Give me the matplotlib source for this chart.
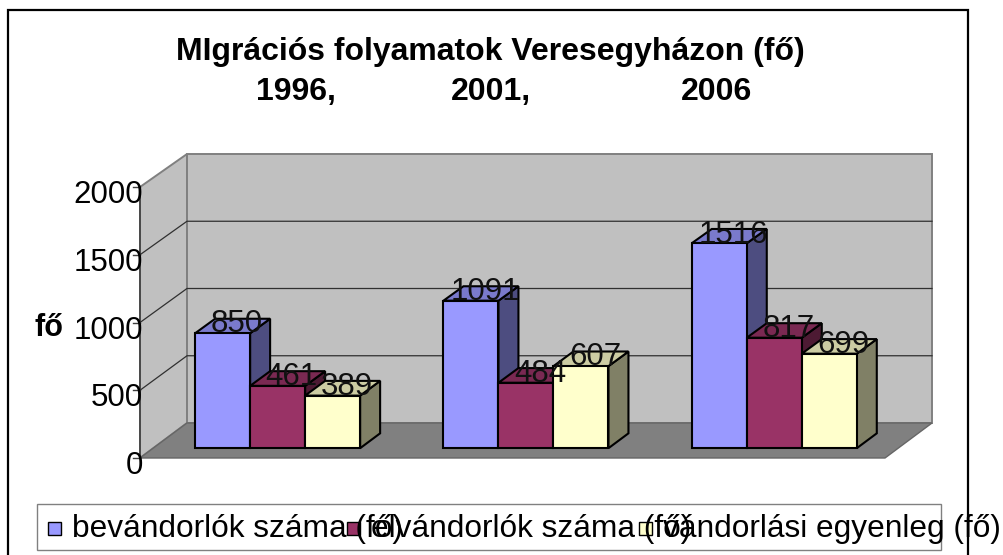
import matplotlib
matplotlib.use("Agg")
import matplotlib.pyplot as plt
from matplotlib.patches import Polygon, Rectangle

plt.rcParams['font.family'] = ['Liberation Sans', 'DejaVu Sans']

# adatok
evek = ["1996", "2001", "2006"]
bevandorlok = [850, 1091, 1516]
elvandorlok = [461, 484, 817]
egyenleg = [389, 607, 699]
sorozatok = [bevandorlok, elvandorlok, egyenleg]
nevek = ["bevándorlók száma (fő)", "elvándorlók száma (fő)", "vándorlási egyenleg (fő)"]
yticks = [0, 500, 1000, 1500, 2000]

front = ["#9999FF", "#993366", "#FFFFCC"]
top = ["#7A7ACC", "#7A2952", "#CCCCA3"]
side = ["#4D4D80", "#4D1A33", "#808066"]

W, H = 1004, 555
PX_X = 745 / 3      # pixel / kategoria
PX_Y = 271 / 2000   # pixel / ertek
DX = 47 / PX_X
BAR = 0.2215
MARGO = 0.169


def vet(x, y, d):
    # ferde vetites: d=0 elol, d=1 a hatso falnal (felul kicsit kisebb a melyseg)
    return (x + d * DX, y + d * (35 - 2 * y / 2000) / PX_Y)


def poly(ax, pontok, fc, ec="black", lw=1.0, z=1):
    ax.add_patch(Polygon([vet(*p) for p in pontok], closed=True, facecolor=fc,
                         edgecolor=ec, linewidth=lw, zorder=z, clip_on=False,
                         joinstyle="miter"))


fig = plt.figure(figsize=(W / 100, H / 100), dpi=100)
ax = fig.add_axes([140 / W, 1 - 458 / H, 745 / W, 271 / H])
ax.set_xlim(0, 3)
ax.set_ylim(0, 2000)
ax.axis("off")

# falak es padlo
poly(ax, [(0, 0, 0), (0, 0, 1), (0, 2000, 1), (0, 2000, 0)], "#C0C0C0", "#808080", 1.4)
poly(ax, [(0, 0, 1), (3, 0, 1), (3, 2000, 1), (0, 2000, 1)], "#C0C0C0", "#808080", 1.4)
poly(ax, [(0, 0, 0), (3, 0, 0), (3, 0, 1), (0, 0, 1)], "#808080", "#666666", 1.0)

# racsvonalak
for t in yticks[1:-1]:
    xs, ys = zip(vet(0, t, 0), vet(0, t, 1), vet(3, t, 1))
    ax.plot(xs, ys, color="#303030", lw=0.9, zorder=2, clip_on=False)

# tengely
ax.plot([0, 0], [0, 2000], color="#404040", lw=1.2, zorder=2, clip_on=False)
for t in yticks:
    ax.plot([-0.03, 0], [t, t], color="#404040", lw=1.0, zorder=2, clip_on=False)
    ax.text(0.012, t - 60, str(t), ha="right", va="center", fontsize=22.5, zorder=6, clip_on=False)

# oszlopok
d0, d1 = 0.28, 0.705
for i in range(len(evek)):
    for j, ertek in enumerate(sorozatok):
        v = ertek[i]
        x0 = i + MARGO + j * BAR
        x1 = x0 + BAR
        z = 3 + 0.01 * (i * 3 + j)
        poly(ax, [(x1, 0, d0), (x1, 0, d1), (x1, v, d1), (x1, v, d0)], side[j], lw=1.5, z=z)
        poly(ax, [(x0, v, d0), (x1, v, d0), (x1, v, d1), (x0, v, d1)], top[j], lw=1.5, z=z)
        poly(ax, [(x0, 0, d0), (x1, 0, d0), (x1, v, d0), (x0, v, d0)], front[j], lw=1.5, z=z)
        lx, ly = vet((x0 + x1) / 2, v, 0.58)
        ax.text(lx, ly - 10, str(v), ha="center", va="center", fontsize=22.5, color="#111111",
                zorder=7, clip_on=False)

# cimek
fig.text(490.5 / W, 1 - 52 / H, "MIgrációs folyamatok Veresegyházon (fő)", ha="center", va="center",
         fontsize=23, fontweight="bold")
for ev, x in zip(evek, [295.5, 490.5, 716.5]):
    fig.text(x / W, 1 - 92 / H, ev + ("," if ev != "2006" else ""), ha="center", va="center",
             fontsize=23, fontweight="bold")
fig.text(49 / W, 1 - 328 / H, "fő", ha="center", va="center", fontsize=22, fontweight="bold")

# jelmagyarazat
fig.add_artist(Rectangle((37 / W, 1 - 550 / H), 904 / W, 46 / H, transform=fig.transFigure,
                         facecolor="white", edgecolor="#808080", linewidth=1.0, zorder=5))
for nev, c, mx in zip(nevek, front, [48, 347, 639]):
    fig.add_artist(Rectangle((mx / W, 1 - 535 / H), 13 / W, 13 / H, transform=fig.transFigure,
                             facecolor=c, edgecolor="black", linewidth=1.0, zorder=6))
    fig.text((mx + 24) / W, 1 - 529 / H, nev, ha="left", va="center", fontsize=22.8, zorder=7)

# kulso keret
fig.add_artist(Rectangle((8 / W, -5 / H), 960 / W, 550 / H, transform=fig.transFigure,
                         facecolor="none", edgecolor="black", linewidth=1.6, zorder=8))

fig.savefig("out.png", dpi=100)
